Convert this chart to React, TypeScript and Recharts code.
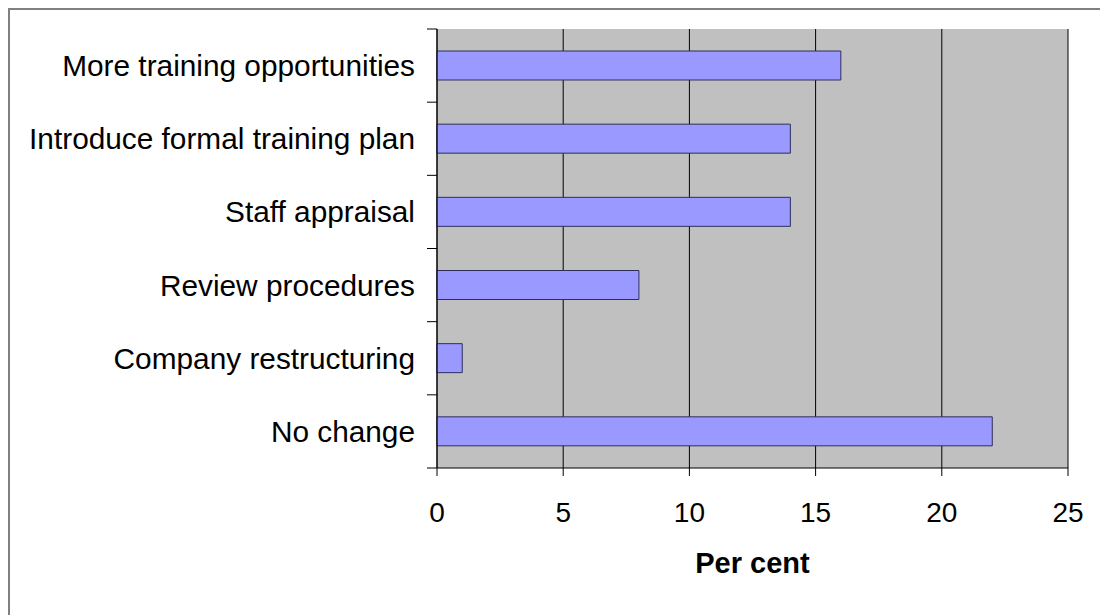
import React from "react";
import { BarChart, Bar, XAxis, YAxis, CartesianGrid, Label, Customized } from "recharts";

const categories = [
  "More training opportunities",
  "Introduce formal training plan",
  "Staff appraisal",
  "Review procedures",
  "Company restructuring",
  "No change",
];
const percents = [16, 14, 14, 8, 1, 22];
const xTicks = [0, 5, 10, 15, 20, 25];

const rows = categories.map((name, i) => ({ name, value: percents[i] }));

const FONT = "'Liberation Sans', Arial, sans-serif";

// category tick: label at the band centre, tick marks at the band edges
function CategoryTick(props: any) {
  const { x, y, payload, index, visibleTicksCount } = props;
  const off = payload.offset || 0;
  const last = index === visibleTicksCount - 1;
  return (
    <g>
      <text x={x - 22} y={y} dy="0.355em" textAnchor="end" fontSize={29.8} fill="#000" fontFamily={FONT}>
        {payload.value}
      </text>
      <line x1={x - 10} x2={x} y1={y - off} y2={y - off} stroke="#000" />
      {last && <line x1={x - 10} x2={x} y1={y + off} y2={y + off} stroke="#000" />}
    </g>
  );
}

// grey frame along the left and top edges of the picture
function Frame() {
  return (
    <g>
      <line x1={9} x2={9} y1={8} y2={615} stroke="#808080" strokeWidth={2} />
      <line x1={8} x2={1108} y1={9} y2={9} stroke="#808080" strokeWidth={2} />
    </g>
  );
}

export default function App() {
  return (
    <div style={{ position: "relative", width: 1092, height: 607 }}>
      <div style={{ position: "absolute", left: -8, top: -8 }}>
        <BarChart
          width={1108}
          height={615}
          data={rows}
          layout="vertical"
          margin={{ top: 29, right: 40, bottom: 0, left: 0 }}
          style={{ fontFamily: FONT }}
        >
          <CartesianGrid horizontal={false} stroke="#000" fill="#C0C0C0" fillOpacity={1} />
          <XAxis
            type="number"
            domain={[0, 25]}
            ticks={xTicks}
            interval={0}
            height={147}
            tickSize={8}
            tickMargin={26}
            stroke="#000"
            tick={{ fill: "#000", fontSize: 28, fontFamily: FONT }}
          >
            <Label
              value="Per cent"
              position="insideBottom"
              offset={42}
              style={{ fontSize: 29, fontWeight: "bold", fill: "#000", fontFamily: FONT }}
            />
          </XAxis>
          <XAxis
            xAxisId="top"
            orientation="top"
            type="number"
            domain={[0, 25]}
            height={0}
            tick={false}
            tickLine={false}
            stroke="#707070"
          />
          <YAxis
            type="category"
            dataKey="name"
            width={437}
            tickSize={0}
            tickMargin={0}
            tickLine={false}
            interval={0}
            stroke="#000"
            tick={<CategoryTick />}
          />
          <Bar dataKey="value" barSize={29} fill="#9999FF" stroke="#2E2E5C" strokeWidth={1} isAnimationActive={false} />
          <Customized component={<Frame />} />
        </BarChart>
      </div>
    </div>
  );
}
